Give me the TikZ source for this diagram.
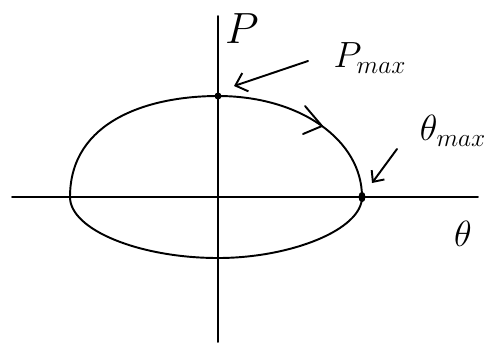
\documentclass[tikz,border=0pt]{standalone}
\usetikzlibrary{arrows.meta,shapes.geometric}
\begin{document}
\begin{tikzpicture}[x=0.02cm,y=-0.02cm,
  ink/.style={line width=1.1pt,line cap=round,line join=round},
  lbl/.style={inner sep=0pt,font=\huge},
  pointer/.style={ink,-{Straight Barb[length=6pt,width=11pt,line width=1.1pt]}},
  dot/.style={circle,fill,inner sep=0pt,minimum size=4pt}]
\useasboundingbox (0,0) rectangle (500,343);
% axes
\coordinate (ytop) at (218,16);
\coordinate (ybot) at (218,342);
\coordinate (xl) at (12,197);
\coordinate (xr) at (478,197);
\draw[ink] (ybot) -- (ytop);
\draw[ink] (xl) -- (xr);
% points
\node[dot] (pmaxdot) at (218,96) {};
\node[ellipse,fill,inner sep=0pt,minimum width=4pt,minimum height=6pt] (thmaxdot) at (362,197) {};
\coordinate (bot) at (218,258);
\coordinate (lft) at (70,197);
% closed orbit
\draw[ink] (pmaxdot.center) .. controls (300,96) and (362,140) .. (thmaxdot.center)
  .. controls (362,230) and (290,258) .. (bot)
  .. controls (140,258) and (70,230) .. (lft)
  .. controls (70,120) and (150,96) .. (pmaxdot.center);
% direction chevron
\coordinate (c1) at (305,106);
\coordinate (ctip) at (322,126);
\coordinate (c2) at (303,134);
\draw[ink] (c1) -- (ctip) -- (c2);
% labels
\node[inner sep=0pt,font=\Huge] (plab) at (242,29) {$P$};
\node[lbl] (thlab) at (463,234) {$\theta$};
\node[lbl] (pmaxlab) at (370,58) {$P_{max}$};
\node[lbl] (thmaxlab) at (453,131) {$\theta_{max}$};
% pointers
\coordinate (pm1) at (308,61);
\coordinate (pm2) at (234,86);
\draw[pointer] (pm1) -- (pm2);
\coordinate (tm1) at (397,149);
\coordinate (tm2) at (372,183);
\draw[pointer,-{Straight Barb[length=5pt,width=9pt,line width=1.1pt]}] (tm1) -- (tm2);
\end{tikzpicture}
\end{document}
